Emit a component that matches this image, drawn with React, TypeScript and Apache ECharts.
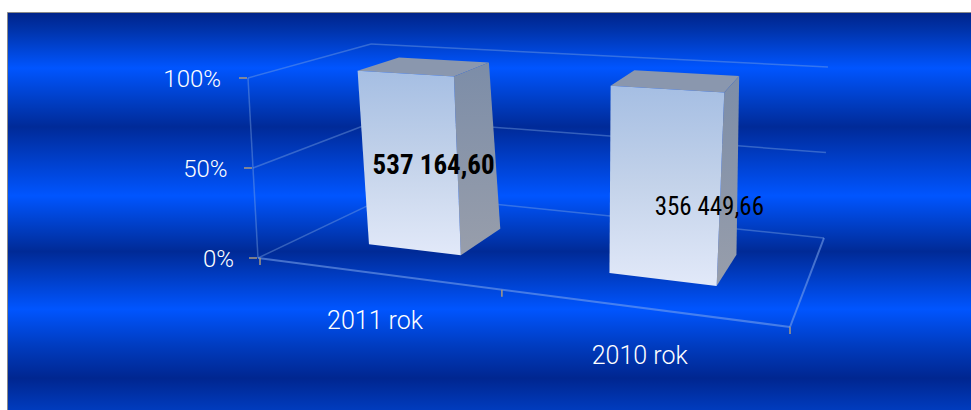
import React, { useEffect, useRef } from "react";
import * as echarts from "echarts";

const CATEGORIES = ["2011 rok", "2010 rok"];
const SHARES = [100, 100];
const VALUE_LABELS = ["537 164,60", "356 449,66"];
const VALUE_WEIGHTS = ["bold", "normal"];
const Y_TICKS = [0, 50, 100];
const Y_TICK_LABELS = ["0%", "50%", "100%"];

const W = 971;
const H = 410;
type P = [number, number];

function homography(p00: P, p10: P, p11: P, p01: P) {
  const dx1 = p10[0] - p11[0], dx2 = p01[0] - p11[0], sx = p00[0] - p10[0] + p11[0] - p01[0];
  const dy1 = p10[1] - p11[1], dy2 = p01[1] - p11[1], sy = p00[1] - p10[1] + p11[1] - p01[1];
  const den = dx1 * dy2 - dx2 * dy1;
  const g = (sx * dy2 - dx2 * sy) / den;
  const h = (dx1 * sy - sx * dy1) / den;
  const a = p10[0] * (1 + g) - p00[0], b = p01[0] * (1 + h) - p00[0];
  const d = p10[1] * (1 + g) - p00[1], e = p01[1] * (1 + h) - p00[1];
  return (u: number, w: number): P => {
    const q = 1 + g * u + h * w;
    return [(a * u + b * w + p00[0]) / q, (d * u + e * w + p00[1]) / q];
  };
}

// perspective of the 3D box: floor plane and top plane (u along categories, w into depth)
const floor = homography([258, 258], [790, 327], [824, 238], [393, 193.6]);
const ceil = homography([248, 78], [808, 114], [828, 67], [371, 44]);
const project = (u: number, v: number, w: number): P => {
  const f = floor(u, w), c = ceil(u, w);
  return [f[0] + (c[0] - f[0]) * v, f[1] + (c[1] - f[1]) * v];
};

const FRONT = 0.29;
const BACK = 0.66;
const BAR_BAND = 0.4;
const LABEL_OFFSET: P[] = [[24, 3], [45, 22]];
const GRID_LINE = "rgba(125,165,225,0.42)";
const TICK = "#a89a80";
const LABEL_FONT = "Roboto, 'Open Sans', sans-serif";
const NARROW_FONT = "'Liberation Sans Narrow', 'Roboto Condensed', 'Noto Sans', sans-serif";

const toU = (x: number) => x / W;
const toV = (y: number) => (H - y) / H;

const line = (a: P, b: P, stroke: string, lineWidth = 1.5) => ({
  type: "line",
  shape: { x1: a[0], y1: a[1], x2: b[0], y2: b[1] },
  style: { stroke, lineWidth },
  silent: true,
});

const gridItem = (_: any, api: any) => {
  const pt = api.coord([0, api.value(0)]);
  const v = toV(pt[1]);
  const label = Y_TICK_LABELS[Y_TICKS.indexOf(api.value(0))];
  const a = project(0, v, 0);
  const b = project(0, v, 1);
  const c = project(1, v, 1);
  const children: any[] = [
    line(a, b, GRID_LINE),
    line(b, c, GRID_LINE),
    line([a[0] - 9, a[1]], [a[0] - 1, a[1]], TICK),
    {
      type: "text",
      style: {
        text: label,
        x: a[0] - 24 - 3 * v,
        y: a[1] + 1,
        textAlign: "right",
        textVerticalAlign: "middle",
        fill: "#ffffff",
        font: `300 24px ${LABEL_FONT}`,
      },
    },
  ];
  if (v === 0) {
    children.push(line(project(0, 0, 0), project(1, 0, 0), "rgba(125,165,235,0.55)", 2));
    children.push(line(project(1, 0, 0), project(1, 0, 1), "rgba(125,165,235,0.55)", 2));
    children.push(line(project(0, 0, 0), project(0, 1, 0), GRID_LINE));
    [0, 0.5, 1].forEach((u) => {
      const t = project(u, 0, 0);
      children.push(line([t[0] + (u === 0 ? 2 : 0), t[1]], [t[0] + (u === 0 ? 2 : 0), t[1] + 7], TICK));
    });
  }
  return { type: "group", children };
};

const barItem = (params: any, api: any) => {
  const i = params.dataIndex;
  const band = api.size([1, 0])[0] * BAR_BAND;
  const top = api.coord([i, api.value(1)]);
  const base = api.coord([i, 0]);
  const u0 = toU(top[0] - band / 2);
  const u1 = toU(top[0] + band / 2);
  const v1 = toV(top[1]);
  const v0 = toV(base[1]);
  const fb0 = project(u0, v0, FRONT), fb1 = project(u1, v0, FRONT);
  const ft0 = project(u0, v1, FRONT), ft1 = project(u1, v1, FRONT);
  const bb1 = project(u1, v0, BACK);
  const bt0 = project(u0, v1, BACK), bt1 = project(u1, v1, BACK);
  const centre = project((u0 + u1) / 2, (v0 + v1) / 2, FRONT);
  const axisPt = project(toU(top[0]), 0, 0);
  const off = LABEL_OFFSET[i];
  return {
    type: "group",
    children: [
      { type: "polygon", shape: { points: [ft0, ft1, bt1, bt0] }, style: { fill: "#8a97ae" } },
      {
        type: "polygon",
        shape: { points: [ft1, bt1, bb1, fb1] },
        style: {
          fill: new echarts.graphic.LinearGradient(0, 0, 0, 1, [
            { offset: 0, color: "#7c8da8" },
            { offset: 1, color: "#989eab" },
          ]),
        },
      },
      {
        type: "polygon",
        shape: { points: [ft0, ft1, fb1, fb0] },
        style: {
          fill: new echarts.graphic.LinearGradient(0, 0, 0, 1, [
            { offset: 0, color: "#a5bee3" },
            { offset: 0.5, color: "#c4d3ea" },
            { offset: 1, color: "#e2e9f9" },
          ]),
        },
      },
      {
        type: "text",
        style: {
          text: VALUE_LABELS[i],
          x: centre[0] + off[0],
          y: centre[1] + off[1],
          textAlign: "center",
          textVerticalAlign: "middle",
          fill: "#000",
          font: `${VALUE_WEIGHTS[i]} ${i === 0 ? 27 : 25}px ${NARROW_FONT}`,
        },
      },
      {
        type: "text",
        style: {
          text: CATEGORIES[i],
          x: axisPt[0],
          y: axisPt[1] + 47.5,
          textAlign: "center",
          textVerticalAlign: "middle",
          fill: "#ffffff",
          font: `300 25px ${LABEL_FONT}`,
        },
      },
    ],
  };
};

const bandStops = [
  [12, "#00238a"], [28, "#0032a8"], [66, "#0055ff"], [100, "#003cc0"], [123, "#002a98"],
  [190, "#0055ff"], [222, "#003cc0"], [244, "#002a96"], [300, "#0055ff"], [335, "#003cc0"],
  [367, "#002690"], [410, "#0044d0"],
] as [number, string][];

export default function App() {
  const ref = useRef<HTMLDivElement>(null);
  useEffect(() => {
    document.body.style.margin = "0";
    document.body.style.overflow = "hidden";
    document.body.style.background = "#fff";
    const chart = echarts.init(ref.current!, undefined, { renderer: "svg" });
    chart.setOption({
      animation: false,
      grid: { left: 0, right: 0, top: 0, bottom: 0 },
      xAxis: { type: "category", data: CATEGORIES, show: false },
      yAxis: { type: "value", min: 0, max: 100, interval: 50, show: false },
      graphic: [
        {
          type: "rect",
          z: -1,
          silent: true,
          shape: { x: 7.5, y: 12.5, width: W, height: H },
          style: {
            stroke: "#8a8a8a",
            lineWidth: 1,
            fill: new echarts.graphic.LinearGradient(
              0, 0, 0, 1,
              bandStops.map(([y, color]) => ({ offset: (y - 12) / (H - 12), color }))
            ),
          },
        },
      ],
      series: [
        {
          type: "custom",
          renderItem: gridItem,
          data: Y_TICKS.map((t) => [t]),
          encode: { y: 0 },
          clip: false,
          silent: true,
          z: 2,
        },
        {
          type: "custom",
          renderItem: barItem,
          data: SHARES.map((s, i) => [i, s]),
          encode: { x: 0, y: 1 },
          clip: false,
          silent: true,
          z: 3,
        },
      ],
    });
    return () => chart.dispose();
  }, []);
  return <div ref={ref} style={{ width: W, height: H }} />;
}
